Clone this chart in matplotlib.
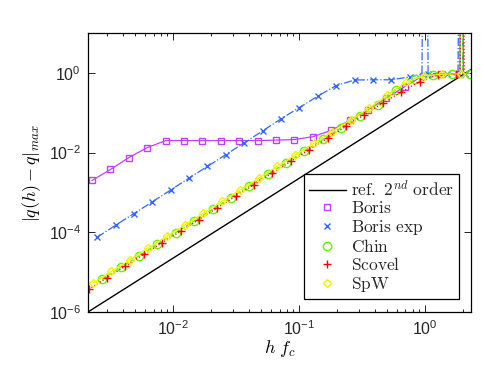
import numpy as np
import matplotlib
matplotlib.use('Agg')
import matplotlib.pyplot as plt
from matplotlib.ticker import NullLocator, NullFormatter, LogLocator

plt.rcParams['font.family'] = ['Liberation Sans', 'DejaVu Sans']
plt.rcParams['mathtext.fontset'] = 'custom'
plt.rcParams['mathtext.rm'] = 'Liberation Sans'
plt.rcParams['mathtext.it'] = 'Liberation Sans:italic'
plt.rcParams['mathtext.bf'] = 'Liberation Sans:bold'

# reference 2nd order line
h_ref = [0.00211, 2.3]
err_ref = [1.0e-6, 1.19]

# Boris
h_boris = [0.002275, 0.003184, 0.004457, 0.006237, 0.00873, 0.01222, 0.0171,
           0.02393, 0.0335, 0.0469, 0.0656, 0.0918, 0.1285, 0.1799, 0.2518,
           0.3524, 0.4932, 0.690, 0.966, 1.352, 1.892]
err_boris = [0.0020, 0.00376, 0.0075, 0.0133, 0.020, 0.020, 0.020,
             0.020, 0.020, 0.020, 0.0205, 0.0212, 0.025, 0.036, 0.064,
             0.12, 0.23, 0.45, 0.85, 0.93, 0.95]
h_boris_x = [1.95, 2.02]
err_boris_x = [1e10, 0.95]

# Boris exp
h_bexp = [0.002494, 0.003491, 0.004887, 0.006839, 0.009572, 0.0134, 0.01875,
          0.02624, 0.03673, 0.0514, 0.0719, 0.1007, 0.1409, 0.1972, 0.2761,
          0.3864, 0.5408, 0.7568, 1.059, 1.483, 2.075]
err_bexp = [7.5e-5, 1.5e-4, 2.95e-4, 5.8e-4, 1.15e-3, 2.3e-3, 4.5e-3,
            8.9e-3, 0.0175, 0.035, 0.07, 0.135, 0.26, 0.48, 0.66,
            0.67, 0.67, 0.79, 0.95, 0.95, 0.95]
h_bexp_x = [0.946, 1.0, 1.83, 1.93, 2.0]
err_bexp_x = [0.92, 1e10, 0.95, 1e10, 0.95]

# Chin
h_chin = [0.002735, 0.003828, 0.005358, 0.0075, 0.0105, 0.01469, 0.02056,
          0.02877, 0.04027, 0.05636, 0.07889, 0.1104, 0.1545, 0.2163, 0.3027,
          0.4236, 0.5929, 0.8299, 1.161, 1.626, 2.275]
err_chin = [6.67e-6, 1.31e-5, 2.56e-5, 5.01e-5, 9.82e-5, 1.92e-4, 3.77e-4,
            7.38e-4, 1.45e-3, 2.83e-3, 5.55e-3, 0.01086, 0.0213, 0.0417, 0.0817,
            0.16, 0.38, 0.72, 0.90, 0.93, 0.96]
h_chin_x = [1.9, 1.95, 2.0]
err_chin_x = [0.95, 1e10, 0.95]

# Scovel
h_scov = [0.002133, 0.002985, 0.004178, 0.005848, 0.008185, 0.01146, 0.01603,
          0.02244, 0.0314, 0.04395, 0.06152, 0.0861, 0.1205, 0.1687, 0.2360,
          0.3304, 0.4624, 0.6471, 0.9057, 1.268, 1.774]
err_scov = [3.70e-6, 7.24e-6, 1.42e-5, 2.78e-5, 5.45e-5, 1.067e-4, 2.09e-4,
            4.09e-4, 8.02e-4, 1.57e-3, 3.08e-3, 6.03e-3, 0.0118, 0.0231, 0.0453,
            0.0887, 0.174, 0.33, 0.60, 0.90, 0.94]
h_scov_x = [1.9, 1.97, 2.05]
err_scov_x = [0.95, 1e10, 0.95]

# SpW
h_spw = [0.002317, 0.003243, 0.004539, 0.006353, 0.008892, 0.01245, 0.01742,
         0.02438, 0.03412, 0.04775, 0.06683, 0.09354, 0.1309, 0.1832, 0.2564,
         0.3589, 0.5023, 0.7031, 0.9840, 1.377, 1.928]
err_spw = [5.37e-6, 1.05e-5, 2.06e-5, 4.04e-5, 7.91e-5, 1.55e-4, 3.03e-4,
           5.94e-4, 1.16e-3, 2.28e-3, 4.47e-3, 8.75e-3, 0.01714, 0.0336, 0.0658,
           0.129, 0.28, 0.58, 0.85, 0.92, 0.95]
h_spw_x = []
err_spw_x = []


def merge(h, e, hx, ex):
    hh = np.concatenate([h, hx])
    ee = np.concatenate([e, ex])
    idx = np.argsort(hh)
    return hh[idx], ee[idx]


series = [
    (h_boris, err_boris, h_boris_x, err_boris_x, (0.75, 0.25, 1.0), '-', 's', 5, r'$\mathrm{Boris}$'),
    (h_bexp, err_bexp, h_bexp_x, err_bexp_x, (0.2, 0.4, 1.0), '-.', 'x', 4.5, r'$\mathrm{Boris\ exp}$'),
    (h_chin, err_chin, h_chin_x, err_chin_x, (0.4, 0.95, 0.0), '--', 'o', 6, r'$\mathrm{Chin}$'),
    (h_scov, err_scov, h_scov_x, err_scov_x, (1.0, 0.0, 0.0), ':', '+', 6, r'$\mathrm{Scovel}$'),
    (h_spw, err_spw, h_spw_x, err_spw_x, (0.95, 0.95, 0.0), '-', 'D', 4.5, r'$\mathrm{SpW}$'),
]

fig = plt.figure(figsize=(4.91, 3.69), dpi=100)
ax = fig.add_axes([0.1792, 0.1545, 0.7801, 0.7561])

ax.loglog(h_ref, err_ref, color='k', lw=1.0, label=r'$\mathrm{ref.}\ 2^{nd}\ \mathrm{order}$')

for h, e, hx, ex, c, ls, m, ms, lab in series:
    hl, el = merge(h, e, hx, ex)
    ax.loglog(hl, el, color=c, ls=ls, lw=0.9)
    ax.loglog(h, e, ls='none', marker=m, ms=ms, mfc='none', mec=c, mew=1.0, label=lab)

ax.set_xlim(0.00211, 2.32)
ax.set_ylim(1e-6, 10)

ax.set_xticks([1e-2, 1e-1, 1e0])
ax.xaxis.set_minor_locator(LogLocator(base=10, subs=np.arange(2, 10)))
ax.xaxis.set_minor_formatter(NullFormatter())
ax.set_yticks([1e-6, 1e-4, 1e-2, 1e0])
ax.yaxis.set_minor_locator(NullLocator())

ax.tick_params(which='both', direction='in', top=True, right=True,
               labelsize=11.5, labelcolor='#262626', width=0.6)
ax.tick_params(which='major', length=5, pad=5)
ax.tick_params(which='minor', length=2.5)
for s in ax.spines.values():
    s.set_linewidth(0.9)

xl = ax.set_xlabel(r'$h\ f_c$', fontsize=13, labelpad=0)
yl = ax.set_ylabel(r'$|q(h) - q|_{max}$', fontsize=13, labelpad=4)
xl.set_math_fontfamily('cm')
yl.set_math_fontfamily('cm')

leg = ax.legend(loc='lower right', bbox_to_anchor=(0.9687, 0.0466), borderaxespad=0,
                fontsize=12.5, handlelength=2.1, handletextpad=0.3, labelspacing=0.08,
                fancybox=False, framealpha=1, edgecolor='k', borderpad=0.3)
leg.get_frame().set_linewidth(0.9)
for t in leg.get_texts():
    t.set_math_fontfamily('cm')
    t.set_color('#262626')

fig.savefig('out.png', dpi=100)
